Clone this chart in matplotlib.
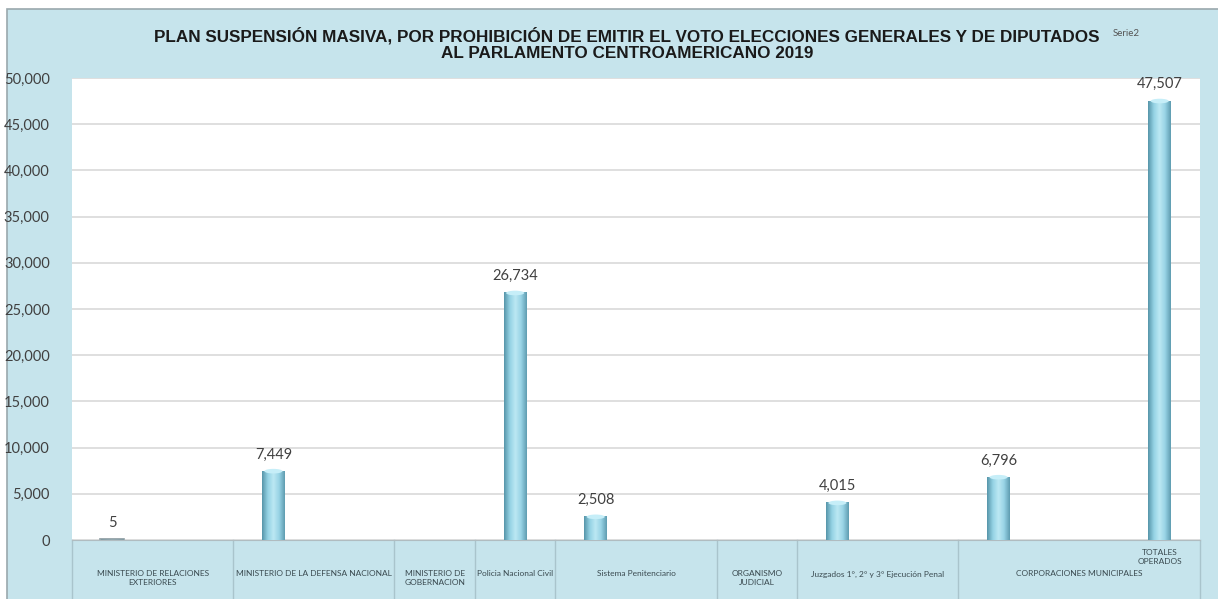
import numpy as np
import matplotlib
matplotlib.use("Agg")
import matplotlib.pyplot as plt
from matplotlib import font_manager
from matplotlib.colors import LinearSegmentedColormap
from matplotlib.patches import Rectangle, Ellipse
import matplotlib.transforms as mtransforms

# Datos (14 columnas de categoría; NaN = sin barra)
valores = [5, np.nan, 7449, np.nan, np.nan, 26734, 2508, np.nan, np.nan, 4015,
           np.nan, 6796, np.nan, 47507]
etiquetas_internas = ["", "", "", "", "", "", "", "", "", "", "", "", "", "TOTALES\nOPERADOS"]
grupos = ["MINISTERIO DE RELACIONES\nEXTERIORES",
          "MINISTERIO DE LA DEFENSA NACIONAL",
          "MINISTERIO DE\nGOBERNACION",
          "Policia Nacional Civil",
          "Sistema Penitenciario",
          "ORGANISMO\nJUDICIAL",
          "Juzgados 1°, 2° y 3° Ejecución Penal",
          "CORPORACIONES MUNICIPALES"]
grupos_ncols = [2, 2, 1, 1, 2, 1, 2, 3]
y_ticks = list(range(0, 50001, 5000))

titulo = ("PLAN SUSPENSIÓN MASIVA, POR PROHIBICIÓN DE EMITIR EL VOTO ELECCIONES GENERALES Y DE DIPUTADOS\n"
          "AL PARLAMENTO CENTROAMERICANO 2019")

instaladas = {f.name for f in font_manager.fontManager.ttflist}
fuente_titulo = "Liberation Sans Narrow" if "Liberation Sans Narrow" in instaladas else "Liberation Sans"
fuente_txt = "Lato"

azul_fondo = "#c6e4ec"
gris_txt = "#404040"

fig = plt.figure(figsize=(12.18, 5.99), dpi=100, facecolor="white")
# marco azul del gráfico
fig.patches.append(Rectangle((7 / 1218, -0.01), 1, 1 - 9 / 599 + 0.01, transform=fig.transFigure,
                             facecolor=azul_fondo, edgecolor="#9aa8ad", linewidth=1.2, zorder=-10))

ax = fig.add_axes([72 / 1218, 1 - 540 / 599, (1200 - 72) / 1218, (540 - 78) / 599])
ax.set_facecolor("white")

x = np.arange(len(valores))
ancho = 0.28
cmap = LinearSegmentedColormap.from_list("cil", ["#5796aa", "#94d2e4", "#bce8f3", "#98d3e5", "#5f9db1"])
grad = np.linspace(0, 1, 64).reshape(1, -1)

for xi, v in zip(x, valores):
    if np.isnan(v):
        continue
    ax.imshow(grad, cmap=cmap, aspect="auto", extent=[xi - ancho / 2, xi + ancho / 2, 0, v],
              origin="lower", zorder=3)
    if v > 100:
        ax.add_patch(Ellipse((xi, v), ancho * 0.8, 500, facecolor="#c6eef8", edgecolor="none", zorder=4))
    else:
        ax.plot([xi - 0.15, xi + 0.15], [60, 60], color="#8a9aa0", lw=1.2, zorder=4)
    ax.annotate(f"{int(v):,}", (xi, v), xytext=(0, 7), textcoords="offset points",
                ha="center", va="bottom", fontsize=10.5, color=gris_txt, family=fuente_txt)

ax.set_xlim(-0.5, len(valores) - 0.5)
ax.set_ylim(0, 50000)
ax.set_yticks(y_ticks)
ax.set_yticklabels([f"{t:,}" for t in y_ticks], fontsize=10.5, color=gris_txt, family=fuente_txt)
ax.tick_params(axis="y", length=0, pad=16)
ax.set_xticks([])
ax.yaxis.grid(True, color="#d9d9d9", linewidth=1.2)
ax.set_axisbelow(True)
for s in ["top", "right", "left"]:
    ax.spines[s].set_visible(False)
ax.spines["bottom"].set_color("#b0bcc0")

# tabla de categorías bajo el eje
trans = mtransforms.blended_transform_factory(ax.transData, ax.transAxes)
bordes = np.concatenate([[0], np.cumsum(grupos_ncols)]) - 0.5
for b in bordes:
    ax.plot([b, b], [0, -0.14], transform=trans, color="#a9c4cc", lw=1, clip_on=False)
for i, g in enumerate(grupos):
    cx = (bordes[i] + bordes[i + 1]) / 2
    ax.text(cx, -0.066, g, transform=trans, ha="center", va="top", fontsize=6,
            color="#3a4a50", family=fuente_txt, linespacing=1.3, clip_on=False)
for xi, t in zip(x, etiquetas_internas):
    if t:
        ax.text(xi, -0.02, t, transform=trans, ha="center", va="top", fontsize=6,
                color="#3a4a50", family=fuente_txt, linespacing=1.3, clip_on=False)

fig.text(627 / 1218, 1 - 44 / 599, titulo, ha="center", va="center", fontsize=12.3,
         fontweight="bold", family=fuente_titulo, color="#1a1a1a", linespacing=1.2)
fig.text(1113 / 1218, 1 - 33 / 599, "Serie2", ha="left", va="center", fontsize=7,
         color="#555555", family=fuente_txt)

fig.savefig("out.png", dpi=100, facecolor=fig.get_facecolor())
